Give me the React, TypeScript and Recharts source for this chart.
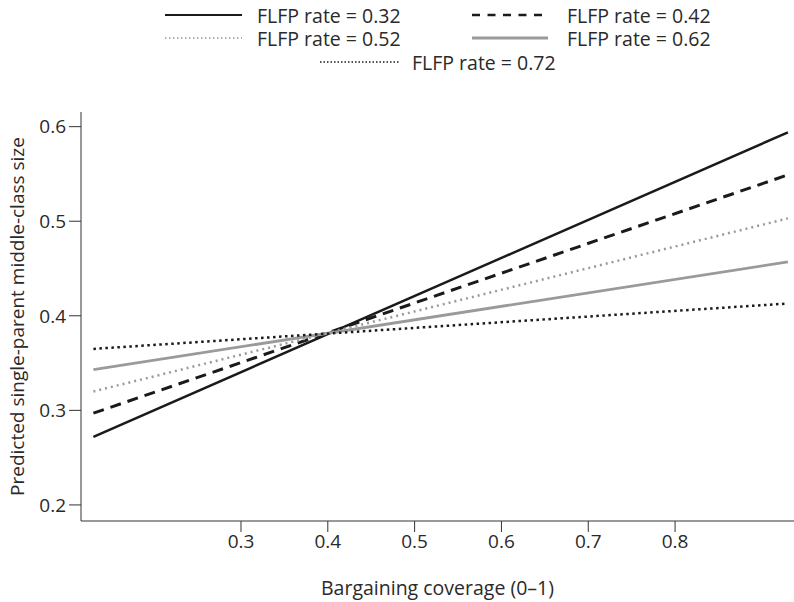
import React from "react";
import { LineChart, Line, XAxis, YAxis, Label } from "recharts";

// bargaining coverage at the two ends of each fitted line
const coverage = [0.13, 0.93];

// predicted single-parent middle-class size per FLFP rate
const flfp32 = [0.272, 0.594];
const flfp42 = [0.297, 0.549];
const flfp52 = [0.32, 0.503];
const flfp62 = [0.343, 0.457];
const flfp72 = [0.365, 0.413];

const xTicks = [0.3, 0.4, 0.5, 0.6, 0.7, 0.8];
const yTicks = [0.2, 0.3, 0.4, 0.5, 0.6];

const data = coverage.map((c, i) => ({
  coverage: c,
  f32: flfp32[i],
  f42: flfp42[i],
  f52: flfp52[i],
  f62: flfp62[i],
  f72: flfp72[i],
}));

const FONT = "'Open Sans', sans-serif";
const TEXT = "#2a2a2a";

const series = [
  { key: "f32", name: "FLFP rate = 0.32", color: "#1a1a1a", width: 2.5, dash: undefined, legendWidth: 2, legendDash: undefined },
  { key: "f42", name: "FLFP rate = 0.42", color: "#1a1a1a", width: 3, dash: "11 7", legendWidth: 2.5, legendDash: "8 7.5" },
  { key: "f52", name: "FLFP rate = 0.52", color: "#9a9a9a", width: 2.5, dash: "2 4", legendWidth: 1.5, legendDash: "1.5 2.5" },
  { key: "f62", name: "FLFP rate = 0.62", color: "#9a9a9a", width: 2.8, dash: undefined, legendWidth: 3, legendDash: undefined },
  { key: "f72", name: "FLFP rate = 0.72", color: "#1a1a1a", width: 2.5, dash: "2.5 3.5", legendWidth: 1.5, legendDash: "1.5 2" },
];

// where each legend entry sits: line start, line end, text start, row centre
const legendPos = [
  { x1: 165, x2: 242, tx: 257, y: 15 },
  { x1: 472, x2: 548, tx: 567, y: 15 },
  { x1: 165, x2: 242, tx: 257, y: 38 },
  { x1: 472, x2: 548, tx: 567, y: 38 },
  { x1: 320, x2: 400, tx: 412, y: 62 },
];

function TopLegend() {
  return (
    <svg width={794} height={80} style={{ position: "absolute", left: 0, top: 0 }}>
      {series.map((s, i) => {
        const p = legendPos[i];
        return (
          <g key={s.key}>
            <line
              x1={p.x1}
              x2={p.x2}
              y1={p.y}
              y2={p.y}
              stroke={s.color}
              strokeWidth={s.legendWidth}
              strokeDasharray={s.legendDash}
            />
            <text
              x={p.tx}
              y={p.y}
              dominantBaseline="central"
              fontFamily={FONT}
              fontSize={19.5}
              fill={TEXT}
            >
              {s.name}
            </text>
          </g>
        );
      })}
    </svg>
  );
}

export default function App() {
  return (
    <div style={{ position: "absolute", left: 0, top: 0, width: 794, height: 602, background: "#fff" }}>
      <LineChart
        width={794}
        height={602}
        data={data}
        margin={{ top: 112, right: 0, bottom: 0, left: 0 }}
      >
        <XAxis
          dataKey="coverage"
          type="number"
          domain={[0.1157, 0.937]}
          ticks={xTicks}
          tickFormatter={(v: number) => v.toFixed(1)}
          allowDataOverflow
          height={81}
          tickSize={11}
          tickMargin={3}
          stroke="#333"
          tick={{ fill: TEXT, fontFamily: FONT, fontSize: 19 }}
        >
          <Label
            value="Bargaining coverage (0–1)"
            position="insideBottom"
            offset={7}
            style={{ fill: TEXT, fontFamily: FONT, fontSize: 19.5 }}
          />
        </XAxis>
        <YAxis
          type="number"
          domain={[0.183, 0.6155]}
          ticks={yTicks}
          tickFormatter={(v: number) => v.toFixed(1)}
          allowDataOverflow
          width={81}
          tickSize={12}
          tickMargin={3}
          stroke="#333"
          tick={{ fill: TEXT, fontFamily: FONT, fontSize: 19 }}
        >
          <Label
            value="Predicted single-parent middle-class size"
            angle={-90}
            position="insideLeft"
            offset={17}
            style={{ fill: TEXT, fontFamily: FONT, fontSize: 19, textAnchor: "middle" }}
          />
        </YAxis>
        {series.map((s) => (
          <Line
            key={s.key}
            dataKey={s.key}
            name={s.name}
            type="linear"
            stroke={s.color}
            strokeWidth={s.width}
            strokeDasharray={s.dash}
            dot={false}
            activeDot={false}
            isAnimationActive={false}
          />
        ))}
      </LineChart>
      <TopLegend />
    </div>
  );
}
